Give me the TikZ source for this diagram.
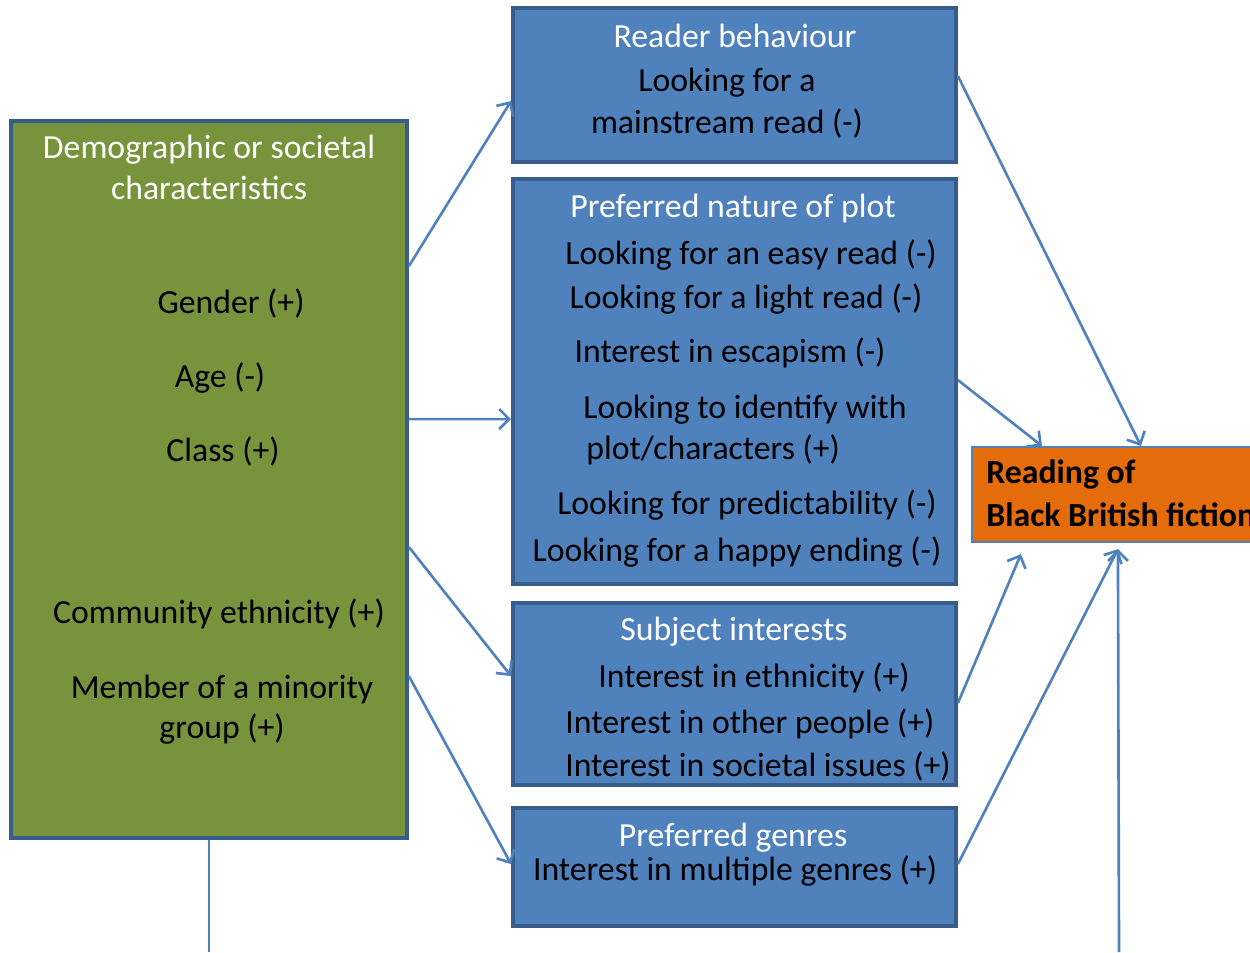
\documentclass[tikz,border=0pt]{standalone}
\usepackage{fontspec}
\setmainfont{Carlito}
\usetikzlibrary{arrows.meta}

\definecolor{boxblue}{HTML}{4F81BD}
\definecolor{boxedge}{HTML}{385D8A}
\definecolor{boxgreen}{HTML}{77933C}
\definecolor{boxorange}{HTML}{E46C0A}

\begin{document}
\begin{tikzpicture}

% \draw[help lines, color=gray!30] (0,0) grid (25,-19.04);
\clip (0,0) rectangle (25,-19.04);

\tikzstyle{box}=[draw=boxedge, line width=2.2pt, fill=boxblue, rectangle, inner sep=0pt]
\tikzstyle{txt}=[font=\fontsize{19.2}{23}\selectfont, inner sep=0pt]
\tikzstyle{head}=[txt, text=white]
\tikzstyle{link}=[draw=boxblue, line width=1.5pt, -{Straight Barb[length=2mm,width=4mm]}]

% boxes
\node[box, fill=boxgreen, minimum width=7.92cm, minimum height=14.34cm] (demo) at (4.18,-9.59) {};
\node[box, minimum width=8.86cm, minimum height=3.08cm] (reader) at (14.69,-1.70) {};
\node[box, minimum width=8.86cm, minimum height=8.10cm] (plot) at (14.69,-7.63) {};
\node[box, minimum width=8.86cm, minimum height=3.64cm] (subject) at (14.69,-13.88) {};
\node[box, minimum width=8.86cm, minimum height=2.36cm] (genres) at (14.69,-17.34) {};
\node[rectangle, draw=boxblue, line width=1.2pt, fill=boxorange, minimum width=5.96cm, minimum height=1.90cm] (fiction) at (22.42,-9.89) {};

% demographic
\node[head] (demohead1) at (4.18,-3.00) {Demographic or societal};
\node[head] (demohead2) at (4.18,-3.76) {characteristics};
\node[txt] (gender) at (4.62,-6.06) {Gender (+)};
\node[txt] (age) at (4.40,-7.56) {Age (-)};
\node[txt] (class) at (4.46,-9.02) {Class (+)};
\node[txt] (community) at (4.38,-12.28) {Community ethnicity (+)};
\node[txt] (minority1) at (4.44,-13.78) {Member of a minority};
\node[txt] (minority2) at (4.44,-14.58) {group (+)};

% reader behaviour
\node[head] (readerhead) at (14.70,-0.72) {Reader behaviour};
\node[txt] (mainstream1) at (14.54,-1.66) {Looking for a};
\node[txt] (mainstream2) at (14.54,-2.46) {mainstream read (-)};

% plot
\node[head] (plothead) at (14.66,-4.16) {Preferred nature of plot};
\node[txt] (easy) at (15.02,-5.10) {Looking for an easy read (-)};
\node[txt] (light) at (14.92,-5.98) {Looking for a light read (-)};
\node[txt] (escapism) at (14.60,-7.06) {Interest in escapism (-)};
\node[txt] (identify1) at (14.90,-8.20) {Looking to identify with};
\node[txt, anchor=west] (identify2) at (11.72,-9.00) {plot/characters (+)};
\node[txt] (predict) at (14.94,-10.10) {Looking for predictability (-)};
\node[txt] (happy) at (14.74,-11.04) {Looking for a happy ending (-)};

% subject
\node[head] (subjecthead) at (14.68,-12.64) {Subject interests};
\node[txt] (ethnicity) at (15.08,-13.56) {Interest in ethnicity (+)};
\node[txt] (people) at (15.00,-14.48) {Interest in other people (+)};
\node[txt] (societal) at (15.16,-15.32) {Interest in societal issues (+)};

% genres
\node[head] (genreshead) at (14.66,-16.76) {Preferred genres};
\node[txt] (multiple) at (14.70,-17.42) {Interest in multiple genres (+)};

% outcome
\node[txt, anchor=west, font=\fontsize{19.2}{23}\selectfont\bfseries] (fiction1) at (19.72,-9.50) {Reading of};
\node[txt, anchor=west, font=\fontsize{19.2}{23}\selectfont\bfseries] (fiction2) at (19.72,-10.30) {Black British fiction};

% links
\coordinate (demobot) at (4.18,-19.04);
\coordinate (fictionbot) at (22.38,-19.04);

\draw[link] ([yshift=-2.94cm]demo.north east) -- ([yshift=-1.90cm]reader.north west);
\draw[link] ([yshift=-6.00cm]demo.north east) -- ([yshift=-4.84cm]plot.north west);
\draw[link] ([yshift=-8.56cm]demo.north east) -- ([yshift=-1.50cm]subject.north west);
\draw[link] ([yshift=-11.14cm]demo.north east) -- ([yshift=-1.16cm]genres.north west);

\draw[link] ([yshift=-1.40cm]reader.north east) -- ([xshift=3.40cm]fiction.north west);
\draw[link] ([yshift=-4.06cm]plot.north east) -- ([xshift=1.42cm]fiction.north west);
\draw[link] ([yshift=-2.04cm]subject.north east) -- ([xshift=1.00cm,yshift=-0.22cm]fiction.south west);
\draw[link] ([yshift=-1.16cm]genres.north east) -- ([xshift=2.94cm,yshift=-0.12cm]fiction.south west);
\draw[link] (fictionbot) -- ([xshift=2.94cm,yshift=-0.12cm]fiction.south west);

\draw[boxblue, line width=1.5pt] (demo.south) -- (demobot);

\end{tikzpicture}
\end{document}
